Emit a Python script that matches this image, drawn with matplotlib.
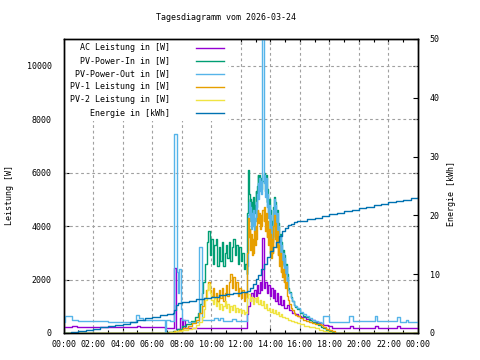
import matplotlib
matplotlib.use("Agg")
import matplotlib.pyplot as plt
from matplotlib.lines import Line2D
from matplotlib.patches import Rectangle

# ---------------- data (hours of day) -------------
title = "Tagesdiagramm vom 2026-03-24"
xtick_hours = [0, 2, 4, 6, 8, 10, 12, 14, 16, 18, 20, 22, 24]
xtick_labels = ["00:00", "02:00", "04:00", "06:00", "08:00", "10:00", "12:00",
                "14:00", "16:00", "18:00", "20:00", "22:00", "00:00"]
ytick_left = [0, 2000, 4000, 6000, 8000, 10000]
ytick_right = [0, 10, 20, 30, 40, 50]

legend_labels = ["AC Leistung in [W]", "PV-Power-In in [W]", "PV-Power-Out in [W]",
                 "PV-1 Leistung in [W]", "PV-2 Leistung in [W]", "Energie in [kWh]"]

# AC Leistung [W]
ac_t = [0.00, 0.60, 0.90, 4.95, 5.20, 6.90, 7.48, 7.64, 7.90, 8.00, 8.10, 8.20,
        12.45, 12.50, 12.60, 12.70, 12.80, 12.90, 13.00, 13.10, 13.20, 13.30, 13.40,
        13.47, 13.55, 13.65, 13.75, 13.85, 13.95, 14.05, 14.15, 14.25, 14.35, 14.45,
        14.55, 14.65, 14.75, 14.85, 14.95, 15.10, 15.30, 15.50, 15.70, 15.90, 16.10,
        16.40, 16.70, 17.00, 17.30, 17.60, 17.90, 18.20, 18.40, 19.40, 19.60, 21.10,
        21.30, 22.60, 22.80, 24.00]
ac_v = [210, 280, 210, 280, 210, 180, 2450, 150, 550, 150, 500, 170,
        700, 1000, 1300, 1500, 1200, 1600, 1400, 1800, 1500, 1900, 1600,
        3550, 1700, 1900, 1500, 1800, 1400, 1700, 1300, 1600, 1200, 1500,
        1100, 1400, 1050, 1250, 950, 1050, 850, 750, 700, 650, 600,
        530, 470, 420, 360, 300, 250, 200, 190, 250, 190, 250,
        190, 250, 190, 190]

# PV-Power-In [W]
pin_t = [0.00, 7.05, 7.40, 7.70, 8.00, 8.30, 8.60, 8.90, 9.10, 9.25, 9.35, 9.45, 9.55,
         9.60, 9.70, 9.80, 9.90, 10.00, 10.10, 10.20, 10.30, 10.40, 10.50, 10.60, 10.70,
         10.80, 10.90, 11.00, 11.10, 11.20, 11.30, 11.40, 11.50, 11.60, 11.70, 11.80,
         11.90, 12.00, 12.10, 12.20, 12.30, 12.40, 12.45, 12.50, 12.55, 12.60, 12.65,
         12.70, 12.75, 12.80, 12.85, 12.90, 12.95, 13.00, 13.05, 13.10, 13.15, 13.20,
         13.25, 13.30, 13.35, 13.40, 13.47, 13.55, 13.60, 13.65, 13.70, 13.75, 13.80,
         13.85, 13.90, 13.95, 14.00, 14.05, 14.10, 14.15, 14.20, 14.25, 14.30, 14.35,
         14.40, 14.45, 14.50, 14.55, 14.60, 14.65, 14.70, 14.75, 14.80, 14.85, 14.90,
         14.95, 15.00, 15.05, 15.10, 15.15, 15.20, 15.30, 15.40, 15.50, 15.60, 15.70,
         15.80, 16.00, 16.20, 16.40, 16.60, 16.80, 17.00, 17.20, 17.40, 17.60, 17.80,
         18.00, 18.20, 18.35, 24.00]
pin_v = [0, 30, 80, 150, 250, 330, 450, 600, 750, 1100, 1500, 1900, 2400,
         2600, 3400, 3800, 2900, 3500, 2600, 3300, 3500, 2500, 3200, 2700, 3400,
         2500, 3000, 3300, 2800, 3400, 2700, 3200, 3500, 2900, 3300, 2600,
         3200, 2700, 3000, 2400, 2600, 2200, 4500, 6100, 5200, 4500, 5000,
         4300, 4900, 4400, 5100, 4500, 4800, 5300, 4700, 5500, 5900, 5300,
         5900, 5500, 5800, 5400, 5700, 5800, 6000, 5300, 5900, 4900, 5400,
         4500, 5000, 3900, 4600, 3500, 4200, 3600, 4700, 5100, 4300, 4900,
         4000, 4600, 3600, 4100, 3100, 3700, 2900, 3400, 2700, 3100, 2500,
         2900, 2300, 2600, 2000, 2200, 1700, 1550, 1350, 1200, 1050, 980,
         900, 760, 650, 580, 480, 420, 360, 300, 240, 180, 120,
         70, 30, 0, 0]

# PV-Power-Out [W]
pout_t = [0.00, 0.10, 0.55, 1.00, 3.00, 4.90, 5.10, 5.35, 6.90, 6.97, 7.20, 7.45,
          7.66, 7.75, 7.85, 7.95, 8.05, 8.40, 9.15, 9.35, 10.20, 10.45, 10.60, 10.80,
          11.40, 11.70, 12.40, 12.45, 12.50, 12.55, 12.60, 12.65, 12.70, 12.75, 12.80,
          12.85, 12.90, 12.95, 13.00, 13.05, 13.10, 13.15, 13.20, 13.25, 13.30, 13.35,
          13.40, 13.47, 13.55, 13.60, 13.65, 13.70, 13.75, 13.80, 13.85, 13.90, 13.95,
          14.00, 14.05, 14.10, 14.15, 14.20, 14.25, 14.30, 14.35, 14.40, 14.45, 14.50,
          14.55, 14.60, 14.65, 14.70, 14.75, 14.80, 14.85, 14.90, 14.95, 15.00, 15.05,
          15.10, 15.15, 15.20, 15.30, 15.40, 15.50, 15.60, 15.70, 15.80, 16.00, 16.20,
          16.40, 16.60, 16.80, 17.00, 17.20, 17.40, 17.60, 17.95, 18.30, 19.30, 19.60,
          21.10, 21.25, 22.55, 22.80, 23.20, 23.30, 24.00]
pout_v = [430, 640, 480, 450, 430, 660, 560, 470, 0, 500, 450, 7450,
          2300, 1500, 2400, 900, 470, 430, 3200, 480, 560, 470, 560, 450,
          540, 440, 460, 2500, 4400, 4900, 4200, 4700, 3900, 4500, 4000,
          4600, 3800, 4300, 4900, 4200, 5200, 5600, 5000, 5800, 5300, 5700,
          5200, 11000, 5600, 5900, 5100, 5800, 4700, 5200, 4300, 4800, 3700,
          4400, 3300, 4000, 3400, 4600, 5000, 4200, 4800, 3900, 4500, 3500,
          4000, 3000, 3600, 2800, 3300, 2600, 3000, 2400, 2800, 2200, 2500,
          1900, 2100, 1600, 1500, 1300, 1200, 1050, 1000, 950, 800, 700,
          650, 560, 500, 450, 420, 380, 650, 430, 420, 650, 440,
          650, 440, 600, 430, 470, 430, 430]

# PV-1 Leistung [W]
pv1_t = [0.00, 7.15, 7.50, 7.80, 8.10, 8.40, 8.70, 9.00, 9.20, 9.35, 9.50, 9.65, 9.80,
         9.90, 10.00, 10.10, 10.20, 10.30, 10.40, 10.50, 10.60, 10.70, 10.80, 10.90,
         11.00, 11.10, 11.20, 11.30, 11.40, 11.50, 11.60, 11.70, 11.80, 11.90, 12.00,
         12.10, 12.20, 12.30, 12.40, 12.45, 12.50, 12.55, 12.60, 12.65, 12.70, 12.75,
         12.80, 12.85, 12.90, 12.95, 13.00, 13.05, 13.10, 13.15, 13.20, 13.25, 13.30,
         13.35, 13.40, 13.47, 13.55, 13.60, 13.65, 13.70, 13.75, 13.80, 13.85, 13.90,
         13.95, 14.00, 14.05, 14.10, 14.15, 14.20, 14.25, 14.30, 14.35, 14.40, 14.45,
         14.50, 14.55, 14.60, 14.65, 14.70, 14.75, 14.80, 14.85, 14.90, 14.95, 15.00,
         15.05, 15.10, 15.20, 15.30, 15.40, 15.50, 15.60, 15.70, 15.80, 16.00, 16.20,
         16.40, 16.60, 16.80, 17.00, 17.20, 17.40, 17.60, 17.80, 18.00, 18.20, 18.40,
         24.00]
pv1_v = [0, 20, 60, 120, 200, 280, 370, 500, 750, 1000, 1300, 1600, 1900,
         1600, 1400, 1700, 1300, 1500, 1200, 1600, 1300, 1700, 1200, 1500,
         1800, 1400, 1900, 2200, 1700, 2100, 1600, 1900, 1400, 1700, 1300,
         1600, 1200, 1500, 1300, 3000, 4300, 3600, 3900, 3100, 3700, 2900,
         3500, 3000, 3800, 3300, 4000, 3500, 4300, 4600, 4100, 4500, 3900,
         4400, 4000, 4600, 4200, 4700, 3800, 4500, 3600, 4200, 3300, 3900,
         3000, 3700, 2800, 3500, 3000, 4000, 4400, 3500, 4100, 3200, 3800,
         2900, 3300, 2500, 3000, 2300, 2700, 2100, 2400, 1900, 2200, 1700,
         1900, 1400, 1250, 1100, 950, 850, 750, 680, 620, 550, 500,
         460, 420, 390, 350, 320, 290, 230, 160, 110, 60, 0,
         0]

# PV-2 Leistung [W]
pv2_t = [0.00, 7.20, 7.60, 8.00, 8.40, 8.70, 9.00, 9.20, 9.35, 9.50, 9.60, 9.70, 9.80,
         9.90, 10.00, 10.10, 10.20, 10.30, 10.40, 10.50, 10.60, 10.70, 10.80, 10.90,
         11.00, 11.10, 11.20, 11.30, 11.40, 11.50, 11.60, 11.70, 11.80, 11.90, 12.00,
         12.10, 12.20, 12.30, 12.40, 12.45, 12.50, 12.60, 12.70, 12.80, 12.90, 13.00,
         13.10, 13.20, 13.30, 13.40, 13.50, 13.60, 13.70, 13.80, 13.90, 14.00, 14.10,
         14.20, 14.30, 14.40, 14.50, 14.60, 14.70, 14.80, 15.00, 15.20, 15.40, 15.60,
         15.80, 16.00, 16.30, 16.60, 17.00, 17.30, 17.60, 17.90, 18.10, 24.00]
pv2_v = [0, 20, 60, 100, 150, 200, 300, 420, 600, 900, 1250, 1600, 1850,
         1500, 1250, 1100, 1300, 1000, 1150, 900, 1100, 850, 1000, 1200,
         950, 1100, 800, 1000, 850, 1050, 780, 950, 800, 900, 750,
         850, 700, 800, 750, 1300, 1450, 1200, 1350, 1100, 1300, 1150,
         1350, 1100, 1250, 1050, 1200, 950, 1100, 850, 950, 800, 900,
         750, 850, 700, 780, 650, 720, 600, 560, 500, 450, 400,
         360, 320, 280, 240, 190, 130, 70, 20, 0, 0]

# Energie [kWh]
en_t = [0.0, 0.5, 1.0, 1.5, 2.0, 2.5, 3.0, 3.5, 4.0, 4.5, 5.0, 5.5, 6.0, 6.5, 7.0,
        7.4, 7.5, 7.6, 7.75, 8.0, 8.5, 9.0, 9.5, 10.0, 10.5, 11.0, 11.5, 12.0, 12.4,
        12.6, 12.8, 13.0, 13.2, 13.4, 13.6, 13.8, 14.0, 14.2, 14.4, 14.6, 14.8, 15.0,
        15.2, 15.4, 15.6, 15.8, 16.0, 16.5, 17.0, 17.5, 18.0, 18.5, 19.0, 19.5, 20.0,
        20.5, 21.0, 21.5, 22.0, 22.5, 23.0, 23.5, 24.0]
en_v = [0.0, 0.15, 0.3, 0.5, 0.7, 0.95, 1.2, 1.4, 1.6, 1.85, 2.2, 2.5, 2.75, 3.0, 3.2,
        3.35, 3.9, 4.7, 5.05, 5.3, 5.5, 5.7, 5.95, 6.2, 6.4, 6.6, 6.8, 7.0, 7.15,
        7.6, 8.4, 9.1, 9.9, 10.8, 11.8, 12.9, 14.0, 14.6, 15.4, 16.5, 17.3, 17.9,
        18.3, 18.6, 18.8, 19.0, 19.1, 19.4, 19.6, 19.9, 20.2, 20.4, 20.7, 21.0, 21.25,
        21.5, 21.7, 21.95, 22.2, 22.45, 22.7, 22.9, 23.1]

# ---------------- styling ----------------
FONT = "DejaVu Sans Mono"
FS = 6
colors = ["#9400d3", "#009e73", "#56b4e9", "#e69f00", "#f0e442", "#0072b2"]
W, H = 480, 360

fig = plt.figure(figsize=(4.8, 3.6), dpi=100)
x0, x1, ytop, ybot = 63.5, 418.0, 39.0, 333.0
ax = fig.add_axes([x0 / W, 1 - ybot / H, (x1 - x0) / W, (ybot - ytop) / H])
ax.set_xlim(0, 24)
ax.set_ylim(0, 11000)
ax.set_axisbelow(True)

series = [(ac_t, ac_v), (pin_t, pin_v), (pout_t, pout_v), (pv1_t, pv1_v), (pv2_t, pv2_v)]
for (t, v), c in zip(series, colors[:5]):
    ax.plot(t, v, drawstyle="steps-post", color=c, lw=1.0, zorder=3)

ax2 = ax.twinx()
ax2.set_ylim(0, 50)
ax2.plot(en_t, en_v, drawstyle="steps-post", color=colors[5], lw=1.0)

# grid
for h in xtick_hours[1:-1]:
    ax.axvline(h, color="#a0a0a0", lw=0.8, ls=(0, (2.5, 2.5)), zorder=1)
for yv in ytick_left[1:]:
    ax.axhline(yv, color="#a0a0a0", lw=0.8, ls=(0, (2.5, 2.5)), zorder=1)

# legend box (opaque, no frame)
ax.add_patch(Rectangle((0, 1 - (120.5 - ytop) / (ybot - ytop)), (228 - x0) / (x1 - x0),
                       (120.5 - ytop) / (ybot - ytop), transform=ax.transAxes,
                       facecolor="white", edgecolor="none", zorder=2))

# ticks
ax.set_xticks(xtick_hours)
ax.set_xticklabels(xtick_labels)
ax.set_xticks(range(1, 24, 2), minor=True)
ax.set_yticks(ytick_left)
ax.set_yticklabels([str(v) for v in ytick_left])
ax.tick_params(axis="x", which="major", direction="in", length=3.5, width=0.8,
               top=True, pad=5)
ax.tick_params(axis="x", which="minor", direction="in", length=2, width=0.8, top=True)
ax.tick_params(axis="y", which="major", direction="in", length=3.5, width=0.8, pad=8.5,
               right=True, labelright=False)
ax2.set_yticks(ytick_right)
ax2.set_yticklabels([str(v) for v in ytick_right])
ax2.tick_params(axis="y", which="major", direction="in", length=3.5, width=0.8, pad=8.5)
for a in (ax, ax2):
    for lab in a.get_xticklabels() + a.get_yticklabels():
        lab.set_fontfamily(FONT)
        lab.set_fontsize(FS)
    for s in a.spines.values():
        s.set_linewidth(1.0)

# texts
fig.text(226.5 / W, 1 - 17.5 / H, title, ha="center", va="center", fontsize=FS, family=FONT)
fig.text(10 / W, 1 - 195 / H, "Leistung [W]", rotation=90, ha="center", va="center",
         fontsize=FS, family=FONT)
fig.text(452 / W, 1 - 193 / H, "Energie [kWh]", rotation=90, ha="center", va="center",
         fontsize=FS, family=FONT)

# legend
for i, (lab, c) in enumerate(zip(legend_labels, colors)):
    yy = 1 - (47.5 + 13.1 * i) / H
    fig.text(170 / W, yy, lab, ha="right", va="center", fontsize=FS, family=FONT)
    fig.add_artist(Line2D([196 / W, 224 / W], [yy, yy], color=c, lw=1.0,
                          transform=fig.transFigure))

fig.savefig("out.png", dpi=100)
